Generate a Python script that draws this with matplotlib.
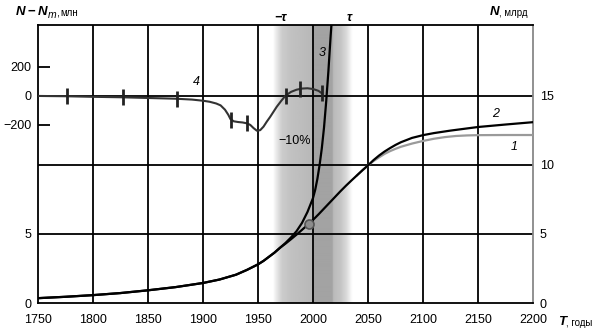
import numpy as np
import matplotlib.pyplot as plt
from matplotlib import transforms

plt.rcParams['font.family'] = ['Liberation Sans', 'DejaVu Sans']

W, H = 601, 331

# --------------------------------------------------------------------------- #
#  Data                                                                        #
# --------------------------------------------------------------------------- #

# curve 2: world population, billions
years_2 = [1750, 1775, 1800, 1825, 1850, 1875, 1900, 1915, 1930, 1940, 1950,
           1955, 1960, 1965, 1970, 1975, 1980, 1985, 1990, 1996, 2000, 2005,
           2010, 2015, 2020, 2025, 2030, 2035, 2040, 2045, 2050, 2055, 2060,
           2065, 2070, 2075, 2080, 2090, 2100, 2110, 2125, 2150, 2175, 2200]
pop_2 = [0.35, 0.45, 0.57, 0.72, 0.92, 1.15, 1.45, 1.7, 2.05, 2.4, 2.8,
         3.05, 3.35, 3.65, 4.0, 4.3, 4.62, 4.95, 5.3, 5.72, 6.02, 6.42,
         6.84, 7.26, 7.68, 8.1, 8.5, 8.88, 9.25, 9.62, 9.97, 10.35, 10.68,
         10.97, 11.22, 11.45, 11.65, 11.96, 12.16, 12.31, 12.49, 12.75, 12.93, 13.1]

# curve 1: model, splits off after 2050
years_1 = [2040, 2045, 2050, 2055, 2060, 2065, 2070, 2075, 2080, 2090, 2100,
           2110, 2120, 2130, 2140, 2150, 2175, 2200]
pop_1 = [9.25, 9.62, 9.97, 10.28, 10.55, 10.8, 11.0, 11.17, 11.32, 11.55, 11.74,
         11.9, 12.02, 12.1, 12.14, 12.16, 12.17, 12.17]

# curve 3: hyperbolic growth
years_3 = [1750, 1775, 1800, 1825, 1850, 1875, 1900, 1915, 1930, 1940, 1950,
           1955, 1960, 1965, 1970, 1975, 1980, 1985, 1990, 1995, 1998, 2000,
           2002, 2004, 2006, 2008, 2010, 2012, 2014, 2016, 2017.5]
pop_3 = [0.35, 0.45, 0.57, 0.72, 0.92, 1.15, 1.45, 1.7, 2.05, 2.4, 2.8,
         3.05, 3.35, 3.65, 4.0, 4.35, 4.75, 5.2, 5.8, 6.6, 7.2, 7.6,
         8.2, 9.0, 10.0, 11.2, 12.7, 14.6, 16.8, 19.3, 21.0]

# curve 4: N - N_m, millions
years_4 = [1750, 1775, 1800, 1825, 1850, 1875, 1890, 1900, 1906, 1912, 1916,
           1920, 1923, 1925, 1928, 1932, 1936, 1940, 1943, 1946, 1949, 1952,
           1955, 1958, 1961, 1964, 1967, 1971, 1975, 1980, 1985, 1990, 1995,
           2000, 2005, 2008]
dev_4 = [0, -2, -6, -9, -14, -19, -25, -33, -40, -52, -65,
         -95, -130, -160, -175, -180, -183, -189, -200, -222, -240, -236,
         -212, -177, -145, -110, -75, -35, 2, 28, 43, 51, 53,
         48, 35, 19]
marks_years = [1776, 1827, 1876, 1925, 1940, 1975, 1988, 2008]
marks_dev = [-2, -9, -19, -165, -189, 0, 46, 19]

now_year, now_pop = 1996, 5.72

x_ticks = [1750, 1800, 1850, 1900, 1950, 2000, 2050, 2100, 2150, 2200]
grid_years = [1800, 1850, 1900, 1950, 2000, 2050, 2100, 2150]
grid_pop = [5, 10, 15]
right_ticks = [0, 5, 10, 15]
left_ticks = [0, 5]
dev_ticks = [-200, 0, 200]

N_MAX = 20.14
MLN_PER_BN = 95.24   # 200 mln spans the same height as 2.1 bn

# --------------------------------------------------------------------------- #
#  Figure                                                                      #
# --------------------------------------------------------------------------- #

fig = plt.figure(figsize=(W / 100, H / 100), dpi=100)
ax = fig.add_axes([38 / W, 1 - 303 / H, (533 - 38) / W, (303 - 25) / H])
ax.set_xlim(1750, 2200)
ax.set_ylim(0, N_MAX)

# gray band around the demographic transition
band_x = np.linspace(1964, 2036, 400)
prof_x = [1964, 1966, 1972, 1980, 1990, 2000, 2000.5, 2017.5, 2018.5, 2025, 2030.5, 2034.5, 2036]
prof_v = [1.0, 0.94, 0.8, 0.76, 0.74, 0.72, 0.64, 0.64, 0.73, 0.77, 0.86, 0.97, 1.0]
band = np.interp(band_x, prof_x, prof_v)[None, :]
ax.imshow(band, extent=[1964, 2036, 0, N_MAX], aspect='auto', cmap='gray',
          vmin=0, vmax=1, zorder=0, interpolation='bilinear')

for yr in grid_years:
    ax.axvline(yr, color='black', lw=1.3, zorder=1)
for p in grid_pop:
    ax.axhline(p, color='black', lw=1.3, zorder=1)

ax.plot(years_1, pop_1, color='#9a9a9a', lw=1.6, zorder=3)
ax.plot(years_3, pop_3, color='black', lw=1.6, zorder=4)
ax.plot(years_2, pop_2, color='black', lw=1.6, zorder=4)
ax.plot([now_year], [now_pop], 'o', ms=6.5, mfc='#8c8c8c', mec='#555555',
        mew=1.2, zorder=5)

for side in ['left', 'top', 'bottom']:
    ax.spines[side].set_linewidth(1.3)
ax.spines['right'].set_color('#888888')
ax.spines['right'].set_linewidth(1.3)

ax.set_xticks(x_ticks)
ax.tick_params(axis='x', length=0, pad=8, labelsize=9)
ax.set_yticks(left_ticks)
ax.tick_params(axis='y', length=0, pad=5, labelsize=9)

# right-hand scale, billions
axR = ax.twinx()
axR.set_ylim(0, N_MAX)
axR.set_yticks(right_ticks)
axR.tick_params(axis='y', length=0, pad=5, labelsize=9)

# upper scale, millions
axM = ax.twinx()
axM.set_ylim(-15 * MLN_PER_BN, (N_MAX - 15) * MLN_PER_BN)
axM.yaxis.tick_left()
axM.set_yticks(dev_ticks)
axM.tick_params(axis='y', direction='in', length=8.5, width=1.3, pad=4.5,
                labelsize=9)
for a in (axR, axM):
    for s in a.spines.values():
        s.set_visible(False)

axM.plot(years_4, dev_4, color='#333333', lw=1.5, zorder=3)
axM.plot(marks_years, marks_dev, ls='none', marker='|', ms=12, mew=2,
         color='#222222', zorder=4)

# curve numbers and notes
ax.text(2008.6, 18.1, '3', fontsize=9, style='italic', ha='center', va='center')
ax.text(2166, 13.7, '2', fontsize=9, style='italic', ha='center', va='center')
ax.text(2182.6, 11.3, '1', fontsize=9, style='italic', ha='center', va='center')
axM.text(1894, 96, '4', fontsize=9, style='italic', ha='center', va='center')
ax.text(1983.2, 11.75, '\u221210%', fontsize=9, ha='center', va='center')

blend = transforms.blended_transform_factory(ax.transData, ax.transAxes)
ax.text(1970.4, 1.026, '\u2212\u03c4', fontsize=9, style='italic',
        weight='bold', ha='center', va='center', transform=blend)
ax.text(2033.3, 1.026, '\u03c4', fontsize=9, style='italic',
        weight='bold', ha='center', va='center', transform=blend)


def ftext(px, py, s, **kw):
    fig.text(px / W, 1 - py / H, s, ha='left', va='center', **kw)


# axis captions
ftext(16, 12, 'N', fontsize=9.5, style='italic', weight='bold')
ftext(27, 12, '\u2212', fontsize=9.5, weight='bold')
ftext(37.5, 12, 'N', fontsize=9.5, style='italic', weight='bold')
ftext(47.5, 15, 'm', fontsize=7.5, style='italic')
ftext(56, 13, ',', fontsize=8)
ftext(60, 13, 'млн', fontsize=7)

ftext(490, 12, 'N', fontsize=9.5, style='italic', weight='bold')
ftext(499, 13, ', млрд', fontsize=7)

ftext(558, 322, 'T', fontsize=9.5, style='italic', weight='bold')
ftext(566, 323, ', годы', fontsize=7)

fig.savefig('out.png', dpi=100)
